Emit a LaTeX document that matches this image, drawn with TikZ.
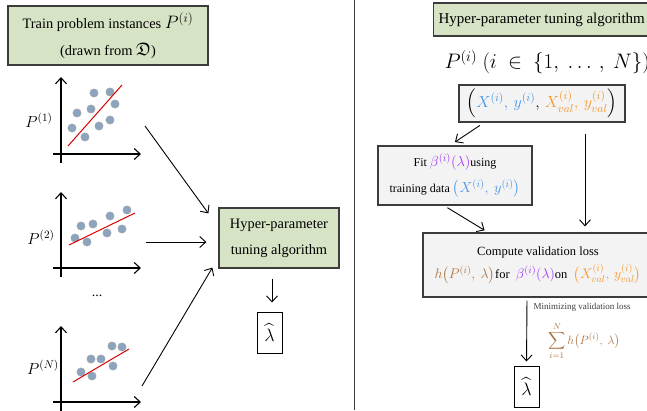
\RequirePackage{fix-cm}
\documentclass[tikz,border=0pt]{standalone}
\usepackage{amsmath,amssymb}
\usepackage{fontspec}
\setmainfont{Liberation Serif}
\usetikzlibrary{positioning,arrows.meta}

% math set a little larger than the Times-like text around it
\DeclareMathSizes{14.4}{18}{13}{10}
\DeclareMathSizes{14}{16}{11.5}{9}
\DeclareMathSizes{12}{14.5}{10.5}{8}
\DeclareMathSizes{12.5}{14}{10}{8}
\DeclareMathSizes{11}{12}{8.5}{7}

\definecolor{boxgreen}{RGB}{214,227,196}
\definecolor{boxgray}{RGB}{243,243,243}
\definecolor{edgegray}{RGB}{60,60,60}
\definecolor{dotblue}{RGB}{140,164,190}
\definecolor{trainblue}{RGB}{70,150,232}
\definecolor{valorange}{RGB}{246,150,40}
\definecolor{fitpurple}{RGB}{160,50,240}
\definecolor{lossbrown}{RGB}{170,115,65}

% axes of one small scatter plot: top of y-axis, height of x-axis
\newcommand{\scatteraxes}[2]{%
  \draw[->,line width=1.1pt] (61,#2+9) -- (61,#1);
  \draw[->,line width=1.1pt] (53,#2) -- (141,#2);}

\begin{document}
\begin{tikzpicture}[x=1pt,y=-1pt,>={Straight Barb[length=6pt,width=11pt]},
  greenbox/.style={draw=edgegray,line width=1.2pt,fill=boxgreen,align=center},
  graybox/.style={draw=edgegray,line width=1.2pt,fill=boxgray,align=center},
  lambox/.style={draw=black,line width=1pt,minimum width=25pt,minimum height=41pt,inner sep=0pt},
  dot/.style={fill=dotblue,draw=gray!70,line width=0.4pt},
  fitline/.style={red!85!black,line width=1pt}]
\useasboundingbox (0,0) rectangle (647,410);
\clip (0,0) rectangle (647,410);

% ---------- left half ----------
\node (train) [greenbox,minimum width=200pt,minimum height=59pt,
  font=\fontsize{14.4}{27}\selectfont] at (108,35.5)
  {Train problem instances $P^{(i)}$\\(drawn from $\mathfrak{D}$)};

% scatter plots
\scatteraxes{77}{154}
\foreach \p in {(94,93),(110,92),(77,113),(91,109),(115,104),(72,128),(99,126),(110,120),(85,137)}
  \draw[dot] \p circle (4.2);
\draw[fitline] (68,146) -- (122,85);
\node (pone) at (39,120) {\fontsize{16}{16}\selectfont$P^{(1)}$};

\scatteraxes{192}{268}
\foreach \p in {(75,238),(81,226),(93,224),(87,242),(110,216),(127,210),(107,233),(122,229)}
  \draw[dot] \p circle (4.2);
\draw[fitline] (69,245) -- (135,213);
\node (ptwo) at (41,237) {\fontsize{16}{16}\selectfont$P^{(2)}$};

\node (gap) at (97,296) {\fontsize{14}{14}\selectfont...};

\scatteraxes{326}{402}
\foreach \p in {(112,346),(122,347),(91,359),(101,359),(113,366),(81,372),(92,376)}
  \draw[dot] \p circle (4.2);
\draw[fitline] (73,382) -- (129,349);
\node (pn) at (43,367) {\fontsize{16}{16}\selectfont$P^{(N)}$};

\node (hyper) [greenbox,minimum width=120pt,minimum height=60pt,
  font=\fontsize{14.4}{26}\selectfont] at (279,238) {Hyper-parameter\\tuning algorithm};
\node (lamleft) [lambox] at (269.5,332.5) {\fontsize{18}{18}\selectfont$\widehat{\lambda}$};

\coordinate (plotone) at (145,126);
\coordinate (plottwo) at (146,242);
\coordinate (plotn) at (142,386);

\draw[->,line width=0.9pt] (plotone) -- ([xshift=-10pt,yshift=-6pt]hyper.north west);
\draw[->,line width=0.9pt] (plottwo) -- ([xshift=-12pt,yshift=-4pt]hyper.west);
\draw[->,line width=0.9pt] (plotn) -- ([xshift=-6pt,yshift=1pt]hyper.south west);
\draw[->,line width=0.9pt,shorten <=10pt,shorten >=9pt] ([xshift=-7pt]hyper.south) -- ([xshift=2.5pt]lamleft.north);

% divider
\draw[line width=1pt,edgegray] (354,0) -- (354,410);

% ---------- right half ----------
\node (algo) [greenbox,anchor=west,minimum height=33pt,inner xsep=5pt,
  font=\fontsize{15}{15}\selectfont] at (433,19.5) {Hyper-parameter tuning algorithm};
\node (inst) [anchor=west,font=\fontsize{21}{21}\selectfont] at (441,62)
  {$P^{(i)}\ (i\ \in\ \{1,\ \ldots\,,\ N\})$};

\node (data) [graybox,minimum width=166pt,minimum height=37pt,
  font=\fontsize{14}{14}\selectfont] at (542,103.5)
  {$\left(\textcolor{trainblue}{X^{(i)},\, y^{(i)}},\, \textcolor{valorange}{X^{(i)}_{val},\, y^{(i)}_{val}}\right)$};

\node (fit) [graybox,minimum width=154pt,minimum height=59pt,
  font=\fontsize{12}{26}\selectfont] at (455,175.5)
  {Fit $\textcolor{fitpurple}{\beta^{(i)}(\lambda)}$using\\
   training data $\textcolor{trainblue}{\left(X^{(i)},\ y^{(i)}\right)}$};

\node (loss) [graybox,minimum width=230pt,minimum height=64pt,
  font=\fontsize{12.5}{23}\selectfont] at (538,265)
  {Compute validation loss\\
   $\textcolor{lossbrown}{h\bigl(P^{(i)},\ \lambda\bigr)}$for\ \ $\textcolor{fitpurple}{\beta^{(i)}(\lambda)}$on\ \
   $\textcolor{valorange}{\bigl(X^{(i)}_{val},\, y^{(i)}_{val}\bigr)}$};

\node (lamright) [lambox] at (526.5,386.5) {\fontsize{18}{18}\selectfont$\widehat{\lambda}$};

\draw[->,line width=0.9pt,shorten <=5pt,shorten >=6pt] ([xshift=-58pt]data.south) -- ([xshift=-5pt]fit.north);
\draw[->,line width=0.9pt,shorten <=11pt,shorten >=6pt] ([xshift=43pt]data.south) -- ([xshift=47pt]loss.north);
\draw[->,line width=0.9pt,shorten <=4pt,shorten >=4pt] ([xshift=-11pt]fit.south) -- ([xshift=-50pt]loss.north);
\draw[->,line width=0.9pt,shorten <=3pt,shorten >=4pt] ([xshift=-11pt]loss.south) -- (lamright.north);

\node (minlabel) [anchor=west,font=\fontsize{9}{9}\selectfont,text=edgegray] at (530,307) {Minimizing validation loss};
\node (sumlabel) [text=lossbrown,font=\fontsize{11}{11}\selectfont] at (584,341)
  {$\displaystyle\sum_{i=1}^{N} h\bigl(P^{(i)},\ \lambda\bigr)$};
\end{tikzpicture}
\end{document}
